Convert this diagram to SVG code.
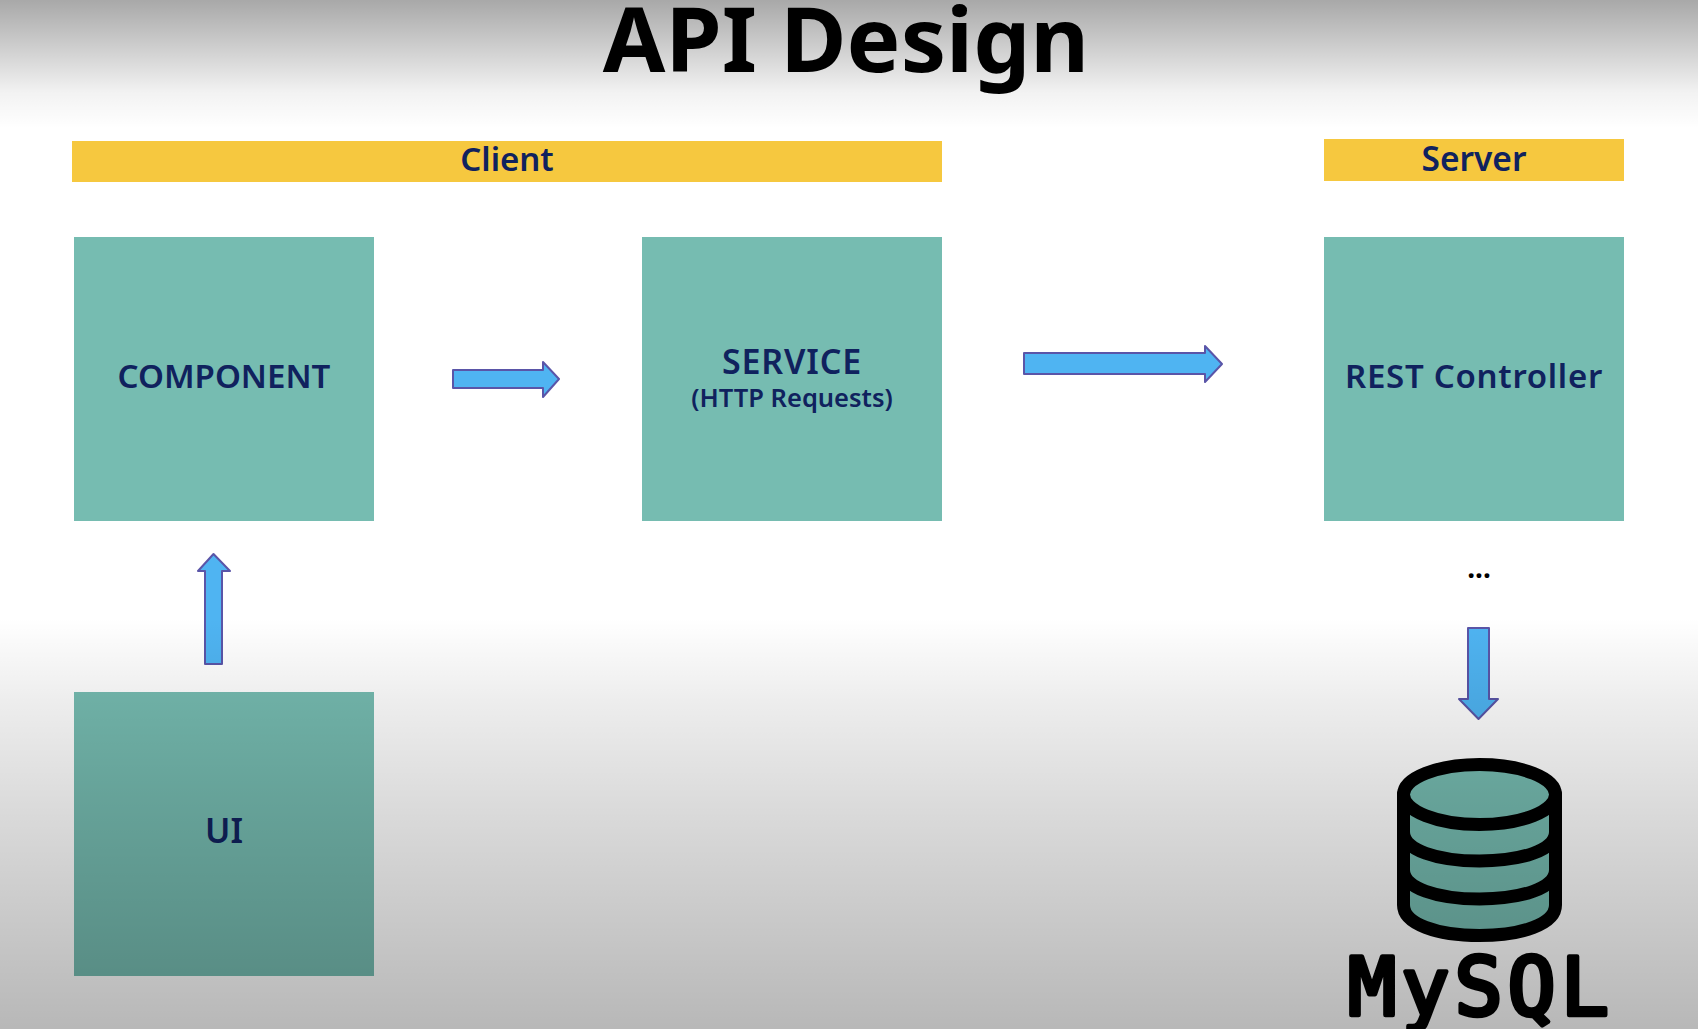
<svg xmlns="http://www.w3.org/2000/svg" width="1698" height="1029" viewBox="0 0 1698 1029">
<defs>
<linearGradient id="shade" x1="0" y1="0" x2="0" y2="1029" gradientUnits="userSpaceOnUse">
<stop offset="0" stop-color="#000" stop-opacity="0.34"/>
<stop offset="0.05" stop-color="#000" stop-opacity="0.18"/>
<stop offset="0.09" stop-color="#000" stop-opacity="0.05"/>
<stop offset="0.125" stop-color="#000" stop-opacity="0"/>
<stop offset="0.6" stop-color="#000" stop-opacity="0"/>
<stop offset="0.68" stop-color="#000" stop-opacity="0.07"/>
<stop offset="0.78" stop-color="#000" stop-opacity="0.14"/>
<stop offset="1" stop-color="#000" stop-opacity="0.28"/>
</linearGradient>
</defs>
<style>
.box{fill:#76bcb1}
.bar{fill:#f6c83f}
.lbl{font-family:"Noto Sans","DejaVu Sans",sans-serif;font-weight:600;fill:#10225e;text-anchor:middle}
.arr{fill:#4fb4f2;stroke:#5a55a8;stroke-width:2;stroke-linejoin:round}
.db{fill:none;stroke:#000;stroke-width:13;stroke-linejoin:round;stroke-linecap:round}
</style>
<rect width="1698" height="1029" fill="#fff"/>
<text id="title" x="846" y="72" font-family="Noto Sans,DejaVu Sans,sans-serif" font-weight="700" font-size="90.500" text-anchor="middle" fill="#000">API Design</text>
<g id="client"><rect class="bar" x="72" y="141" width="870" height="41"/><text class="lbl" x="507" y="171" font-size="33">Client</text></g>
<g id="server"><rect class="bar" x="1324" y="139" width="300" height="42"/><text class="lbl" x="1474" y="171" font-size="33.500">Server</text></g>
<g id="component"><rect class="box" x="74" y="237" width="300" height="284"/><text class="lbl" x="224" y="388" font-size="33">COMPONENT</text></g>
<g id="service"><rect class="box" x="642" y="237" width="300" height="284"/><text class="lbl" x="792" y="374" font-size="34" letter-spacing="0.800">SERVICE</text><text class="lbl" x="792" y="407" font-size="25.500">(HTTP Requests)</text></g>
<g id="rest"><rect class="box" x="1324" y="237" width="300" height="284"/><text class="lbl" x="1474" y="388" font-size="33" letter-spacing="0.700">REST Controller</text></g>
<g id="ui"><rect class="box" x="74" y="692" width="300" height="284"/><text class="lbl" x="224" y="843" font-size="34">UI</text></g>
<text id="dots" x="1479" y="578" font-family="Noto Sans,sans-serif" font-size="28" font-weight="700" text-anchor="middle" fill="#000">...</text>
<g id="connectors">
<polygon class="arr" points="453,370 543,370 543,362 559,379 543,397 543,388 453,388"/>
<polygon class="arr" points="1024,353 1205,353 1205,346 1222,364 1205,382 1205,374 1024,374"/>
<polygon class="arr" points="205,664 205,571 198,571 213.500,554 230,571 222,571 222,664"/>
<polygon class="arr" points="1468,628 1489,628 1489,699 1498,699 1478.500,719 1459,699 1468,699"/>
</g>
<g id="mysql">
<path d="M1403.500 794 V905 C1403.500 924 1437 935.500 1479.500 935.500 C1522 935.500 1555.500 924 1555.500 905 V794 Z" fill="#76bcb1"/>
<ellipse cx="1479.500" cy="794.500" rx="76" ry="30" class="db" style="fill:#76bcb1"/>
<path class="db" d="M1403.500 794 V905 C1403.500 924 1437 935.500 1479.500 935.500 C1522 935.500 1555.500 924 1555.500 905 V794"/>
<path class="db" d="M1403.500 832 C1403.500 850 1437 861 1479.500 861 C1522 861 1555.500 850 1555.500 832"/>
<path class="db" d="M1403.500 870 C1403.500 888 1437 899 1479.500 899 C1522 899 1555.500 888 1555.500 870"/>
<text x="1481" y="1014.500" font-family="DejaVu Sans Mono,monospace" font-size="80" letter-spacing="5" text-anchor="middle" fill="#000" stroke="#000" stroke-width="4.500" stroke-linejoin="round" stroke-linecap="round">MySQL</text>
</g>
<rect id="shading" width="1698" height="1029" fill="url(#shade)"/>
</svg>
